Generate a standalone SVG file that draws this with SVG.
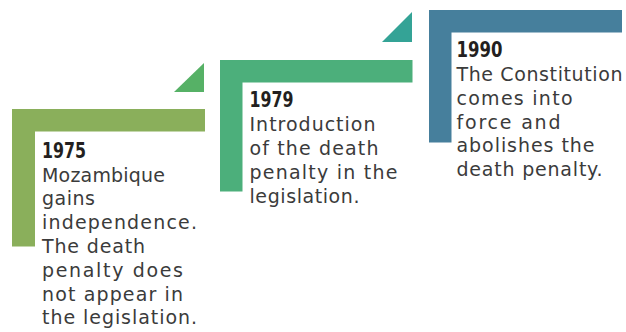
<svg xmlns="http://www.w3.org/2000/svg" width="626" height="332" viewBox="0 0 626 332">
<style>
.body{font-family:"DejaVu Sans","Noto Sans",sans-serif;font-size:19px;fill:#3b3b3b;}
.year{font-family:"DejaVu Sans","Noto Sans",sans-serif;font-size:20.5px;font-weight:bold;fill:#231f20;}
</style>
<rect width="626" height="332" fill="#ffffff"/>
<g id="connectors">
<polygon points="174,92 204,92 204,63" fill="#56b166"/>
<polygon points="382,42 412,42 412,12" fill="#34a396"/>
</g>
<g id="node-1975">
<path d="M12,109 H205 V131.5 H35 V246.5 H12 Z" fill="#8aaf5b"/>
<text class="year" x="42" y="157.7" textLength="44" lengthAdjust="spacingAndGlyphs">1975</text>
<text class="body" x="42" y="181.5" textLength="123" lengthAdjust="spacing">Mozambique</text>
<text class="body" x="42" y="205.3" textLength="53" lengthAdjust="spacing">gains</text>
<text class="body" x="42" y="229.1" textLength="155" lengthAdjust="spacing">independence.</text>
<text class="body" x="42" y="252.9" textLength="103" lengthAdjust="spacing">The death</text>
<text class="body" x="42" y="276.7" textLength="141" lengthAdjust="spacing">penalty does</text>
<text class="body" x="42" y="300.5" textLength="141" lengthAdjust="spacing">not appear in</text>
<text class="body" x="42" y="324.3" textLength="155" lengthAdjust="spacing">the legislation.</text>
</g>
<g id="node-1979">
<path d="M220,60 H412.5 V82.5 H242.5 V191.5 H220 Z" fill="#4caf7b"/>
<text class="year" x="249.5" y="106.7" textLength="44" lengthAdjust="spacingAndGlyphs">1979</text>
<text class="body" x="249.5" y="131.2" textLength="126" lengthAdjust="spacing">Introduction</text>
<text class="body" x="249.5" y="155.2" textLength="129" lengthAdjust="spacing">of the death</text>
<text class="body" x="249.5" y="179.2" textLength="148" lengthAdjust="spacing">penalty in the</text>
<text class="body" x="249.5" y="203.2" textLength="110" lengthAdjust="spacing">legislation.</text>
</g>
<g id="node-1990">
<path d="M429,10 H622 V32.5 H451.5 V142.5 H429 Z" fill="#467f9c"/>
<text class="year" x="456.5" y="56.7" textLength="46" lengthAdjust="spacingAndGlyphs">1990</text>
<text class="body" x="456.5" y="81" textLength="166" lengthAdjust="spacing">The Constitution</text>
<text class="body" x="456.5" y="104.8" textLength="116" lengthAdjust="spacing">comes into</text>
<text class="body" x="456.5" y="128.6" textLength="104" lengthAdjust="spacing">force and</text>
<text class="body" x="456.5" y="152.4" textLength="138" lengthAdjust="spacing">abolishes the</text>
<text class="body" x="456.5" y="176.2" textLength="146" lengthAdjust="spacing">death penalty.</text>
</g>
</svg>
